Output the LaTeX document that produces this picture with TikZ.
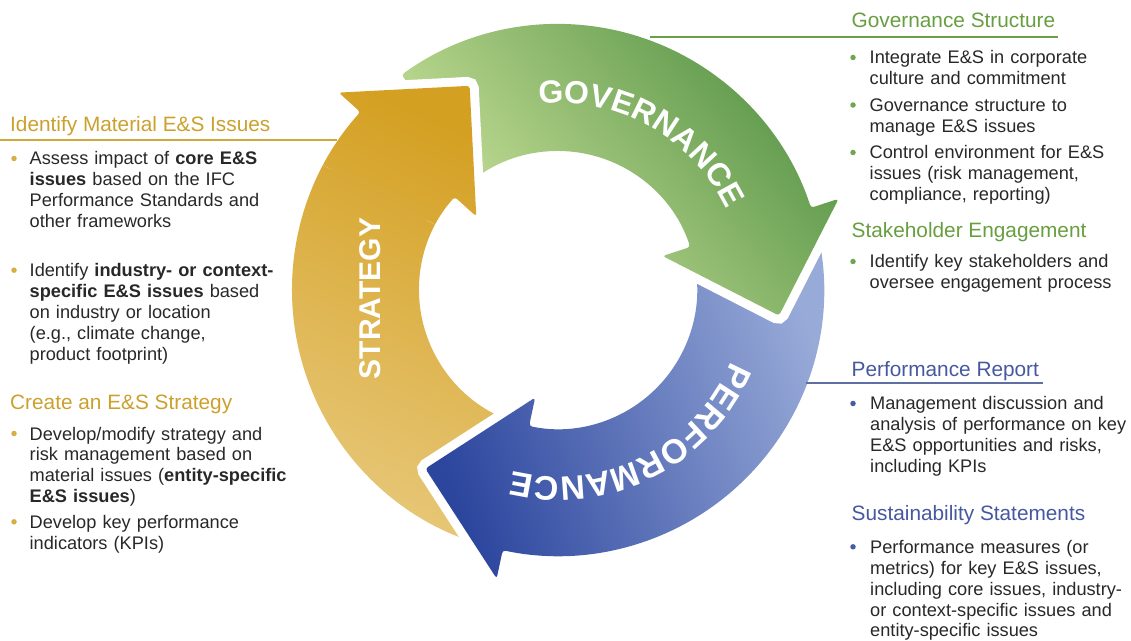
\documentclass[tikz,border=0pt]{standalone}
\usepackage{fontspec}
\setmainfont{Liberation Sans}
\usetikzlibrary{decorations.text}

\definecolor{txt}{RGB}{40,40,40}
\definecolor{goldhead}{RGB}{203,160,45}
\definecolor{golddot}{RGB}{214,174,68}
\definecolor{greenhead}{RGB}{103,158,64}
\definecolor{greendot}{RGB}{112,165,82}
\definecolor{bluehead}{RGB}{70,88,160}
\definecolor{bluedot}{RGB}{72,92,165}
\definecolor{goldline}{RGB}{205,168,60}
\definecolor{greenline}{RGB}{108,158,70}
\definecolor{blueline}{RGB}{95,110,165}
\definecolor{yelA}{RGB}{212,160,34}
\definecolor{yelB}{RGB}{236,191,74}
\definecolor{yelC}{RGB}{231,199,120}
\definecolor{grnA}{RGB}{86,148,70}
\definecolor{grnB}{RGB}{208,229,158}
\definecolor{bluA}{RGB}{152,170,216}
\definecolor{bluB}{RGB}{44,70,158}

% one arrow of the cycle: tail angle, head angle
\newcommand{\cyclearrow}[2]{(#1:266pt) arc[start angle=#1,end angle=#2,radius=266pt]
  -- (#2:295pt) -- ({#2-24.6}:222.5pt) -- (#2:110pt) -- (#2:139pt)
  arc[start angle=#2,end angle=#1,radius=139pt] -- cycle}

\begin{document}
\begin{tikzpicture}[x=1pt,y=1pt]
    \tikzstyle{head}=[anchor=base west,inner sep=0pt,font=\fontsize{20.8}{24}\selectfont]
    \tikzstyle{body}=[anchor=base west,inner sep=0pt,text width=330pt,align=left,text=txt,font=\fontsize{18.2}{20.9}\selectfont]
    \tikzstyle{dot}=[circle,inner sep=0pt,minimum size=5.5pt]
    \tikzstyle{ring}=[rounded corners=3pt,preaction={draw=white,line width=18pt}]
    \tikzstyle{yel}=[ring,top color=yelA,middle color=yelB,bottom color=yelC,shading angle=-25]
    \tikzstyle{grn}=[ring,top color=grnA,bottom color=grnB,shading angle=-50]
    \tikzstyle{blu}=[ring,top color=bluA,bottom color=bluB,shading angle=-70]
    \tikzstyle{cyc}=[decorate,decoration={text along path,text align=center,text color=white}]
    \useasboundingbox (0,0) rectangle (1131,640);

    % the cycle
    \begin{scope}[shift={(558,350)}]
      \path[yel] \cyclearrow{251}{138};
      \path[blu] \cyclearrow{10}{-102};
      \path[grn] \cyclearrow{126}{18};
      % strategy head again, above the governance tail
      \begin{scope}
        \clip (0,0) -- (152:360pt) -- (126:360pt) -- (100:360pt) -- cycle;
        \path[yel] \cyclearrow{251}{138};
      \end{scope}
      \path[cyc,decoration={text={|\fontsize{32}{32}\selectfont\bfseries|GOVERNANCE}}]
        (100:187pt) arc[start angle=100,end angle=21.5,radius=187pt];
      \path[cyc,decoration={text={|\fontsize{34}{34}\selectfont\bfseries|PERFORMANCE}}]
        (-18:187pt) arc[start angle=-18,end angle=-108.4,radius=187pt];
      \node[rotate=90,inner sep=0pt,text=white,font=\fontsize{30}{30}\selectfont\bfseries] (strat) at (182.6:188pt) {STRATEGY};
    \end{scope}

    % left column
    \node[head,text=goldhead] (mat) at (10,508.3) {Identify Material E\&S Issues};
    \node[body] (mat1) at (29.5,475) {Assess impact of \textbf{core E\&S}\\ \textbf{issues} based on the IFC\\ Performance Standards and\\ other frameworks};
    \node[body] (mat2) at (29.5,363.3) {Identify \textbf{industry- or context-}\\ \textbf{specific E\&S issues} based\\ on industry or location\\ (e.g., climate change,\\ product footprint)};
    \node[head,text=goldhead] (str) at (10,230) {Create an E\&S Strategy};
    \node[body] (str1) at (29.5,200) {Develop/modify strategy and\\ risk management based on\\ material issues (\textbf{entity-specific}\\ \textbf{E\&S issues})};
    \node[body] (str2) at (29.5,111.7) {Develop key performance\\ indicators (KPIs)};

    % right column
    \node[head,text=greenhead] (gov) at (851.5,612.5) {Governance Structure};
    \node[body] (gov1) at (869.5,576) {Integrate E\&S in corporate\\ culture and commitment};
    \node[body] (gov2) at (869.5,528.5) {Governance structure to\\ manage E\&S issues};
    \node[body] (gov3) at (869.5,481) {Control environment for E\&S\\ issues (risk management,\\ compliance, reporting)};
    \node[head,text=greenhead] (stk) at (851.5,402) {Stakeholder Engagement};
    \node[body] (stk1) at (869.5,372) {Identify key stakeholders and\\ oversee engagement process};
    \node[head,text=bluehead] (rep) at (851.5,263.3) {Performance Report};
    \node[body] (rep1) at (870,230) {Management discussion and\\ analysis of performance on key\\ E\&S opportunities and risks,\\ including KPIs};
    \node[head,text=bluehead] (sus) at (851.5,120) {Sustainability Statements};
    \node[body] (sus1) at (870,86.7) {Performance measures (or\\ metrics) for key E\&S issues,\\ including core issues, industry-\\ or context-specific issues and\\ entity-specific issues};

    % bullets
    \foreach \b/\c/\d in {mat1/golddot/15.5,mat2/golddot/15.5,str1/golddot/15.5,str2/golddot/15.5,
        gov1/greendot/16.5,gov2/greendot/16.5,gov3/greendot/16.5,stk1/greendot/16.5,
        rep1/bluedot/17,sus1/bluedot/17}
      \node[dot,fill=\c] (\b-dot) at ([shift={(-\d,6.5)}]\b.base west) {};

    % rules under the headings
    \coordinate (matL) at (0,500);
    \coordinate (matR) at (337,500);
    \coordinate (govL) at (650,603);
    \coordinate (govR) at (1058,603);
    \coordinate (repL) at (806,256.7);
    \coordinate (repR) at (1043,256.7);
    \draw[goldline,line width=2pt] (matL) -- (matR);
    \draw[greenline,line width=2.6pt] (govL) -- (govR);
    \draw[blueline,line width=1.8pt] (repL) -- (repR);
\end{tikzpicture}
\end{document}
